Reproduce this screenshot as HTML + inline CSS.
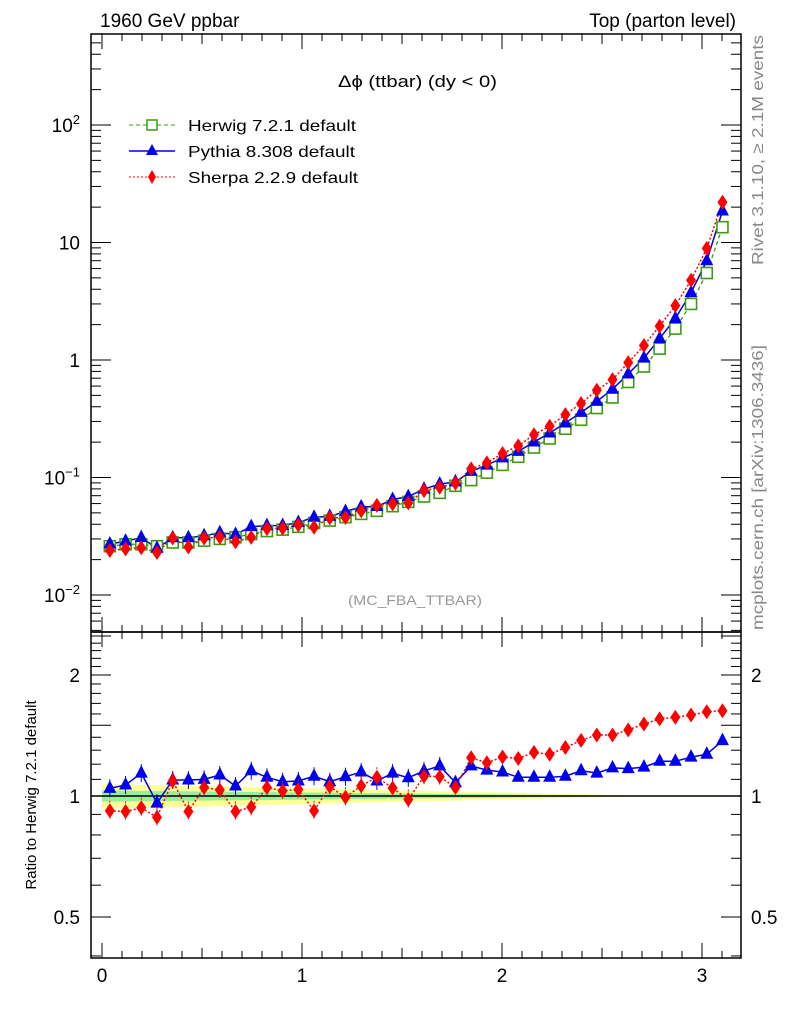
<!DOCTYPE html>
<html><head><meta charset="utf-8"><style>
html,body{margin:0;padding:0;background:#fff;}
svg{display:block;font-family:"Liberation Sans",sans-serif;}
</style></head><body>
<svg id="chart" width="786" height="1024" viewBox="0 0 786 1024" xmlns="http://www.w3.org/2000/svg">
<text x="100" y="27" font-size="19">1960 GeV ppbar</text>
<text x="736" y="27" font-size="19" text-anchor="end">Top (parton level)</text>
<text x="338" y="87" font-size="17" textLength="159" lengthAdjust="spacingAndGlyphs">Δϕ (ttbar) (dy &lt; 0)</text>
<text x="348" y="605" font-size="14" fill="#999" textLength="134" lengthAdjust="spacingAndGlyphs">(MC_FBA_TTBAR)</text>
<text transform="translate(763,265) rotate(-90)" font-size="16" fill="#888" textLength="230" lengthAdjust="spacingAndGlyphs">Rivet 3.1.10, ≥ 2.1M events</text>
<text transform="translate(763,630) rotate(-90)" font-size="16" fill="#888" textLength="285" lengthAdjust="spacingAndGlyphs">mcplots.cern.ch [arXiv:1306.3436]</text>
<text transform="translate(36,795) rotate(-90)" font-size="15" text-anchor="middle">Ratio to Herwig 7.2.1 default</text>
<g id="legend">
 <g>
  <line x1="129" y1="125" x2="175" y2="125" stroke="#3d9a12" stroke-dasharray="4,3"/>
  <rect x="147" y="120" width="10" height="10" fill="#fff" stroke="#3d9a12" stroke-width="1.5"/>
  <text x="188" y="131" font-size="16" textLength="168" lengthAdjust="spacingAndGlyphs">Herwig 7.2.1 default</text></g>
 <g>
  <line x1="129" y1="151" x2="175" y2="151" stroke="#0000dd" stroke-width="1.5"/>
  <polygon points="152,144 146,155 158,155" fill="#0000ee"/>
  <text x="188" y="157" font-size="16" textLength="167" lengthAdjust="spacingAndGlyphs">Pythia 8.308 default</text></g>
 <g>
  <line x1="129" y1="177" x2="175" y2="177" stroke="#ff0000" stroke-dasharray="2,2"/>
  <polygon points="152,170 156,177 152,184 148,177" fill="#ff0000"/>
  <text x="188" y="183" font-size="16" textLength="170" lengthAdjust="spacingAndGlyphs">Sherpa 2.2.9 default</text></g>
</g>
<g id="bands"></g><g id="axes"></g><g id="marks"></g>
</svg>
<script>
const nBins = 40;
const herwig = [0.026,0.027,0.027,0.026,0.028,0.028,0.029,0.030,0.031,0.033,0.035,0.036,0.038,0.041,0.043,0.046,0.049,0.052,0.057,0.062,0.069,0.074,0.085,0.095,0.110,0.128,0.150,0.180,0.215,0.260,0.310,0.390,0.480,0.650,0.880,1.25,1.85,3.0,5.5,13.5];
const pythiaRatio = [1.045,1.065,1.14,0.96,1.096,1.096,1.10,1.128,1.059,1.156,1.113,1.085,1.09,1.12,1.085,1.117,1.147,1.09,1.14,1.11,1.155,1.188,1.08,1.188,1.16,1.147,1.113,1.113,1.113,1.12,1.156,1.14,1.175,1.17,1.18,1.22,1.22,1.249,1.27,1.373];
const sherpaRatio = [0.919,0.915,0.935,0.885,1.09,0.915,1.05,1.035,0.915,0.938,1.05,1.03,1.038,0.919,1.055,0.993,1.06,1.113,1.047,0.98,1.12,1.117,1.05,1.245,1.21,1.25,1.24,1.284,1.27,1.32,1.375,1.418,1.418,1.46,1.51,1.555,1.57,1.59,1.62,1.63];
const xTicks = [0,1,2,3];
const mainTicks = [0.01,0.1,1,10,100];
const mainTickLabels = ["10^-2","10^-1","1","10","10^2"];
const ratioTicks = [0.5,1,2];
const ratioTickLabels = ["0.5","1","2"];

const NS="http://www.w3.org/2000/svg";
const L=91,R=741,T=34,M=632,B=958;
const X=v=>102+200*v;
const YM=v=>360-117.5*Math.log10(v);
const YR=v=>796-121*Math.log2(v);
function mk(p,tag,at){const e=document.createElementNS(NS,tag);for(const k in at)e.setAttribute(k,at[k]);p.appendChild(e);return e;}
const axes=document.getElementById('axes'),marks=document.getElementById('marks'),bands=document.getElementById('bands');
const bw=Math.PI/nBins;
const xc=i=>(i+0.5)*bw;

let yp=[],gp=[];
for(let i=0;i<nBins;i++){const w=Math.max(0.004,0.07*(1-i/nBins*1.15)),g=w*0.45;
 yp.push([X(i*bw),YR(1+w),X((i+1)*bw),YR(1-w)]);gp.push([X(i*bw),YR(1+g),X((i+1)*bw),YR(1-g)]);}
yp.forEach(b=>{const r=mk(bands,'rect',{x:b[0],y:b[1],width:b[2]-b[0]+0.5,height:b[3]-b[1],fill:'#ffff99'});
});
gp.forEach(b=>{const r=mk(bands,'rect',{x:b[0],y:b[1],width:b[2]-b[0]+0.5,height:b[3]-b[1],fill:'#99ee99'});
});

[[T,M],[M,B]].forEach(([t,b],k)=>{const r=mk(axes,'rect',{x:L,y:t,width:R-L,height:b-t,fill:'none',stroke:'#000','stroke-width':1.5});
});
for(let k=0;k<=31;k++){const v=k/10,x=X(v),len=(k%10==0)?15:((k%5==0)?10:7);
 [T,M].forEach(t=>mk(axes,'line',{x1:x,y1:t,x2:x,y2:t+len,stroke:'#000'}));
 [M,B].forEach(b=>mk(axes,'line',{x1:x,y1:b,x2:x,y2:b-len,stroke:'#000'}));}
xTicks.forEach(v=>{const t=mk(axes,'text',{x:X(v),y:982,'font-size':19,'text-anchor':'middle'});t.textContent=v;
});
for(let d=-3;d<=3;d++)for(let m=1;m<10;m++){const v=m*Math.pow(10,d),y=YM(v);if(y<T||y>M)continue;
 const len=m==1?20:10;mk(axes,'line',{x1:L,y1:y,x2:L+len,y2:y,stroke:'#000'});mk(axes,'line',{x1:R,y1:y,x2:R-len,y2:y,stroke:'#000'});}
mainTicks.forEach((v,i)=>{const s=mainTickLabels[i],y=YM(v)+7;const t=mk(axes,'text',{x:80,y:y,'font-size':19,'text-anchor':'end'});
 if(s.includes('^')){const [b,e]=s.split('^');t.textContent=b;const ts=mk(t,'tspan',{dy:-8,'font-size':13});ts.textContent=e.replace('-','−');}else t.textContent=s;
 });
for(let k=4;k<=25;k++){const v=k/10,y=YR(v);if(y<M||y>B)continue;const len=(k%5==0)?20:10;
 mk(axes,'line',{x1:L,y1:y,x2:L+len,y2:y,stroke:'#000'});mk(axes,'line',{x1:R,y1:y,x2:R-len,y2:y,stroke:'#000'});}
ratioTicks.forEach((v,i)=>{[[80,'end'],[751,'start']].forEach(([x,a])=>{const t=mk(axes,'text',{x:x,y:YR(v)+7,'font-size':19,'text-anchor':a});
 t.textContent=ratioTickLabels[i];});});
const one=mk(axes,'line',{x1:L,y1:YR(1),x2:R,y2:YR(1),stroke:'#000','stroke-width':1.5});


const pyth=herwig.map((h,i)=>h*pythiaRatio[i]),sher=herwig.map((h,i)=>h*sherpaRatio[i]);
function line(vals,Y,col,dash,w){const p=vals.map((v,i)=>X(xc(i))+','+Y(v)).join(' ');
 const e=mk(marks,'polyline',{points:p,fill:'none',stroke:col,'stroke-width':w,'stroke-dasharray':dash});return e;}
function sq(x,y){const e=mk(marks,'rect',{x:x-5.5,y:y-5.5,width:11,height:11,fill:'#fff',stroke:'#3d9a12','stroke-width':1.6});
 }
function tri(x,y){const e=mk(marks,'polygon',{points:`${x},${y-8} ${x-6.5},${y+4.5} ${x+6.5},${y+4.5}`,fill:'#0000ee'});
 }
function dia(x,y){const e=mk(marks,'polygon',{points:`${x},${y-7.5} ${x+5},${y} ${x},${y+7.5} ${x-5},${y}`,fill:'#ff0000'});
 }
let e;
e=line(herwig,YM,'#3d9a12','4,3',1.3);
e=line(pyth,YM,'#0000dd','',1.5);
e=line(sher,YM,'#ff0000','2,2',1.5);
herwig.forEach((v,i)=>sq(X(xc(i)),YM(v)));
pyth.forEach((v,i)=>tri(X(xc(i)),YM(v)));
sher.forEach((v,i)=>dia(X(xc(i)),YM(v)));
e=line(pythiaRatio,YR,'#0000dd','',1.5);
e=line(sherpaRatio,YR,'#ff0000','2,2',1.5);
pythiaRatio.forEach((v,i)=>{const x=X(xc(i)),y=YR(v);if(i<22){mk(marks,'line',{x1:x,y1:y-9,x2:x,y2:y+9,stroke:'#0000dd'});}tri(x,y);});
sherpaRatio.forEach((v,i)=>{const x=X(xc(i)),y=YR(v);if(i<22){mk(marks,'line',{x1:x,y1:y-10,x2:x,y2:y+10,stroke:'#ff0000','stroke-dasharray':'2,2'});}dia(x,y);});
</script>
</body></html>
